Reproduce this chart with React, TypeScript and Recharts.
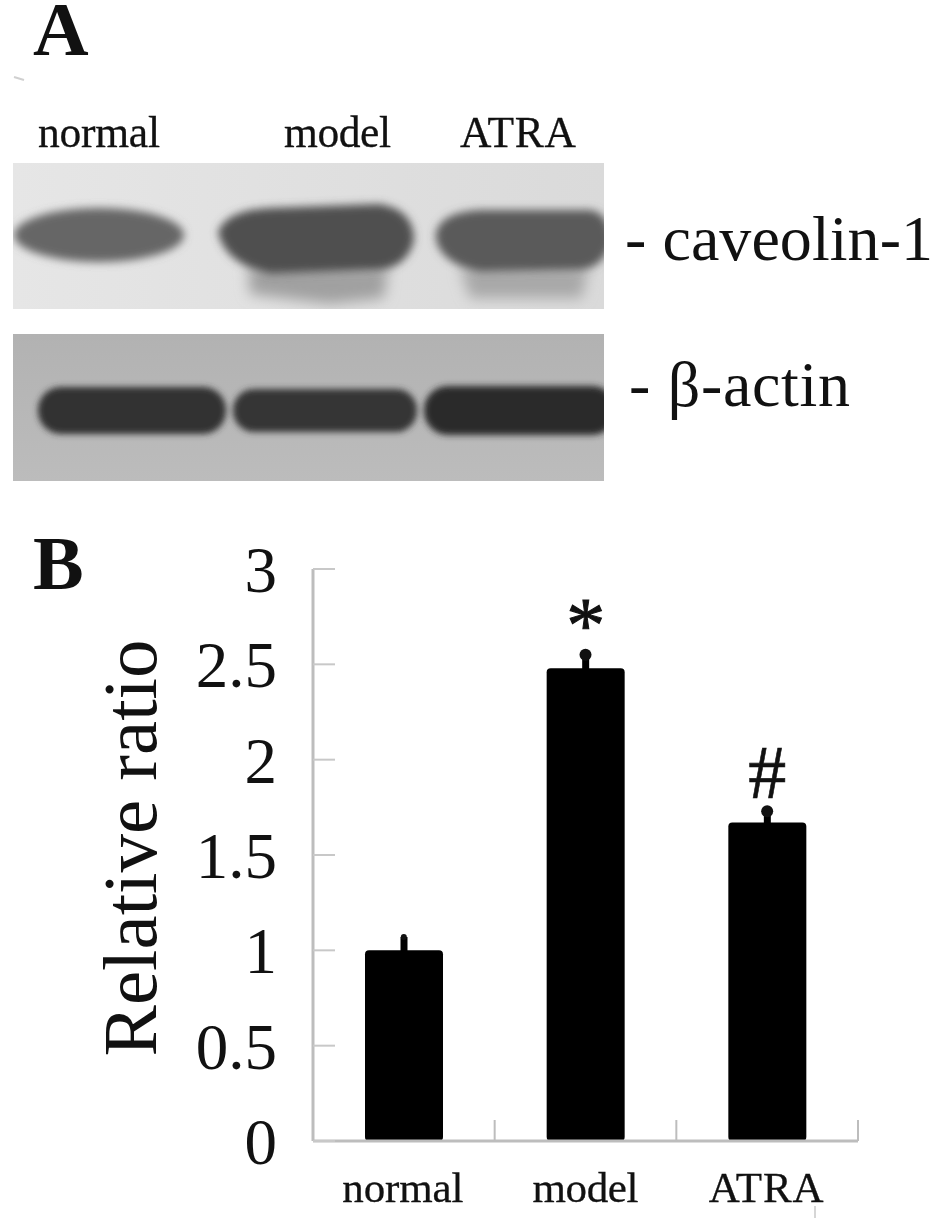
import React from "react";
import { ComposedChart, Bar, Line, XAxis, YAxis, ErrorBar, LabelList, Label } from "recharts";

const groups = ["normal", "model", "ATRA"];
const ratio = [1.0, 2.48, 1.67];
const spread = [0.07, 0.07, 0.06];
const marks = ["", "*", "#"];
const yTicks = [0, 0.5, 1, 1.5, 2, 2.5, 3];
const laneNames = ["normal", "model", "ATRA"];
const proteins = ["- caveolin-1", "- β-actin"];

const rows = groups.map((g, i) => ({
  group: g,
  ratio: ratio[i],
  spread: spread[i],
  top: ratio[i] + spread[i],
  mark: marks[i],
}));

const FONT = "'Liberation Serif', 'Times New Roman', serif";
const AXIS = "#bdbdbd";

const YTick = (p: any) => (
  <g>
    <line x1={p.x} x2={p.x + 22} y1={p.y} y2={p.y} stroke="#c8c8c8" strokeWidth={2} />
    <text x={p.x - 36} y={p.y + 23} textAnchor="end" fontFamily={FONT} fontSize={65} fill="#111">
      {p.payload.value}
    </text>
  </g>
);

const XTick = (p: any) => {
  const band = 545 / 3;
  return (
    <g>
      <line x1={p.x + band / 2} x2={p.x + band / 2} y1={p.y} y2={p.y - 21} stroke={AXIS} strokeWidth={2} />
      <text x={p.x + [-1, 0, -1][p.index]} y={p.y + 61} textAnchor="middle" fontFamily={FONT} fontSize={43} fill="#111" stroke="#111" strokeWidth={0.3}
        textLength={[121, 106, 115][p.index]} lengthAdjust="spacing">
        {p.payload.value}
      </text>
    </g>
  );
};

const CapDot = (p: any) => (
  <circle key={p.index} cx={p.cx} cy={p.cy} r={p.index === 0 ? 3 : 6} fill="#111" />
);

const MarkLabel = (p: any) => {
  const v = p.value;
  if (!v) return null;
  const cx = p.x + p.width / 2;
  return (
    <text x={cx} y={p.y + (v === "*" ? -17 : -25)} textAnchor="middle" fontFamily={FONT}
      fontSize={v === "*" ? 78 : 76} fill="#111" stroke="#111" strokeWidth={v === "*" ? 1 : 0.6}>
      {v}
    </text>
  );
};

const Blots = () => (
  <svg width={945} height={620} style={{ position: "absolute", left: 0, top: 0 }}>
    <defs>
      <filter id="b3" x="-20%" y="-30%" width="140%" height="160%"><feGaussianBlur stdDeviation="4.5" /></filter>
      <filter id="b2" x="-20%" y="-30%" width="140%" height="160%"><feGaussianBlur stdDeviation="3" /></filter>
      <filter id="b6" x="-20%" y="-60%" width="140%" height="220%"><feGaussianBlur stdDeviation="7" /></filter>
      <clipPath id="p1"><rect x={13} y={163} width={591} height={146} /></clipPath>
      <clipPath id="p2"><rect x={13} y={334} width={591} height={147} /></clipPath>
      <linearGradient id="bg1" x1="0" x2="1" y1="0" y2="0">
        <stop offset="0" stopColor="#e6e6e6" />
        <stop offset="0.65" stopColor="#dedede" />
        <stop offset="1" stopColor="#dadada" />
      </linearGradient>
      <linearGradient id="bg2" x1="0" x2="0" y1="0" y2="1">
        <stop offset="0" stopColor="#b2b2b2" />
        <stop offset="1" stopColor="#bcbcbc" />
      </linearGradient>
    </defs>
    <rect x={13} y={163} width={591} height={146} fill="url(#bg1)" />
    <g clipPath="url(#p1)">
      <path d="M248 268 L388 268 L384 298 L330 304 L250 294 Z" fill="#a0a0a0" filter="url(#b6)" />
      <path d="M460 268 L588 268 L582 298 L470 298 Z" fill="#a8a8a8" filter="url(#b6)" />
      <ellipse cx={99} cy={235} rx={85} ry={27} fill="#666666" filter="url(#b3)" />
      <path d="M218 232 Q226 210 270 208 L380 204 Q414 210 414 240 Q408 266 380 270 L270 274 Q225 264 218 232 Z" fill="#505050" filter="url(#b3)" />
      <path d="M436 232 Q442 212 480 210 L590 210 Q608 212 612 240 Q604 268 580 270 L480 272 Q442 264 436 240 Z" fill="#5a5a5a" filter="url(#b3)" />
    </g>
    <rect x={13} y={334} width={591} height={147} fill="url(#bg2)" />
    <g clipPath="url(#p2)" filter="url(#b2)">
      <rect x={38} y={387} width={188} height={47} rx={23} fill="#303030" />
      <rect x={233} y={389} width={184} height={43} rx={21} fill="#343434" />
      <rect x={424} y={386} width={192} height={49} rx={24} fill="#2c2c2c" />
    </g>
    <text x={33} y={55} fontFamily={FONT} fontSize={77} fontWeight={700} fill="#111">A</text>
    <text x={33} y={589} fontFamily={FONT} fontSize={76} fontWeight={700} fill="#111">B</text>
    {laneNames.map((n, i) => (
      <text key={n} x={[38, 284, 460][i]} y={147} fontFamily={FONT} fontSize={43.5} fill="#111" stroke="#111" strokeWidth={0.3}
        textLength={[122, 107, 116][i]} lengthAdjust="spacing">{n}</text>
    ))}
    {proteins.map((n, i) => (
      <text key={n} x={[625, 629][i]} y={[260, 406][i]} fontFamily={FONT} fontSize={64} fill="#111"
        textLength={[308, 221][i]} lengthAdjust="spacing">{n}</text>
    ))}
    <line x1={14} x2={24} y1={77} y2={80} stroke="#d0d0d0" strokeWidth={2} />
  </svg>
);

export default function App() {
  return (
    <div style={{ position: "absolute", left: 0, top: 0, width: 945, height: 1221, background: "#fff", overflow: "hidden", filter: "blur(0.6px)" }}>
      <Blots />
      <div style={{ position: "absolute", left: 0, top: 0 }}>
        <ComposedChart width={945} height={1221} data={rows} margin={{ top: 569, left: 13, right: 87, bottom: 0 }} barCategoryGap={0}>
          <YAxis type="number" width={300} domain={[0, 3]} ticks={yTicks} tick={YTick} tickLine={false} tickSize={0} tickMargin={0}
            axisLine={{ stroke: AXIS, strokeWidth: 3 }} interval={0}>
            <Label content={() => (
              <text transform="translate(156 848) rotate(-90)" textAnchor="middle" fontFamily={FONT} fontSize={77} fill="#111">
                Relative ratio
              </text>
            )} />
          </YAxis>
          <XAxis dataKey="group" height={80} tick={XTick} tickLine={false} tickSize={0} tickMargin={0} axisLine={{ stroke: AXIS, strokeWidth: 3 }} interval={0} />
          <Bar dataKey="ratio" fill="#000" barSize={78} radius={4} isAnimationActive={false}>
            <ErrorBar dataKey="spread" direction="y" width={0} stroke="#000" strokeWidth={7} isAnimationActive={false} />
            <LabelList dataKey="mark" content={MarkLabel} />
          </Bar>
          <Line dataKey="top" stroke="none" dot={CapDot} activeDot={false} isAnimationActive={false} />
        </ComposedChart>
      </div>
      <svg width={945} height={1221} style={{ position: "absolute", left: 0, top: 0, pointerEvents: "none" }}>
        <line x1={815} x2={815} y1={1206} y2={1218} stroke="#c8c8c8" strokeWidth={1.5} />
      </svg>
    </div>
  );
}
